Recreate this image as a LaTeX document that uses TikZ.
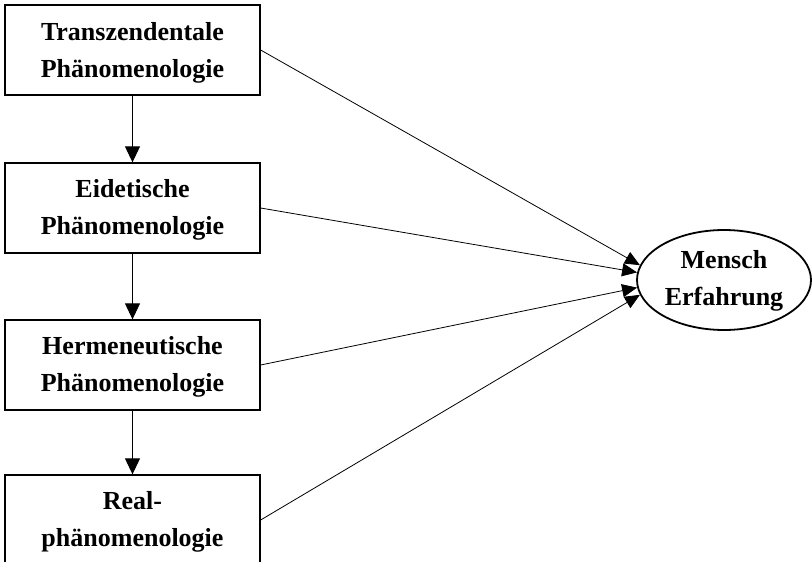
\documentclass[tikz,border=0pt]{standalone}
\usepackage{fontspec}
\setmainfont{Liberation Serif}
\usetikzlibrary{arrows.meta,shapes.geometric}
\begin{document}
\begin{tikzpicture}[x=1pt,y=-1pt,
  txt/.style={align=center,font=\fontsize{26}{37}\selectfont\bfseries,inner sep=0pt},
  box/.style={draw,line width=1.3pt,minimum width=255pt,minimum height=90pt,inner sep=0pt},
  ell/.style={draw,ellipse,line width=1.8pt,minimum width=174pt,minimum height=100pt,inner sep=0pt},
  arr/.style={line width=0.9pt,-{Triangle[width=15pt,length=16pt]}},
  conn/.style={line width=0.8pt,-{Triangle[width=13pt,length=15pt]}}]
\useasboundingbox (0,0) rectangle (812,562);
\clip (0,0) rectangle (812,562);
\node[box,label={[txt,name=at,yshift=-3pt]center:Transzendentale\\Phänomenologie}] (a) at (132.5,50) {};
\node[box,label={[txt,name=bt,yshift=-2pt]center:Eidetische\\Phänomenologie}] (b) at (132.5,208) {};
\node[box,label={[txt,name=ct,yshift=-2pt]center:Hermeneutische\\Phänomenologie}] (c) at (132.5,365) {};
\node[box,label={[txt,name=dt,yshift=-2pt]center:Real-\\phänomenologie}] (d) at (132.5,520) {};
\node[ell,label={[txt,name=mt,yshift=-1pt]center:Mensch\\Erfahrung}] (m) at (724,280) {};
\draw[arr] (a) -- (b);
\draw[arr] (b) -- (c);
\draw[arr] (c) -- (d);
\draw[conn] (a.east) -- (m.170);
\draw[conn] (b.east) -- (m.175);
\draw[conn] (c.east) -- (m.185);
\draw[conn] (d.east) -- (m.190);
\end{tikzpicture}
\end{document}
